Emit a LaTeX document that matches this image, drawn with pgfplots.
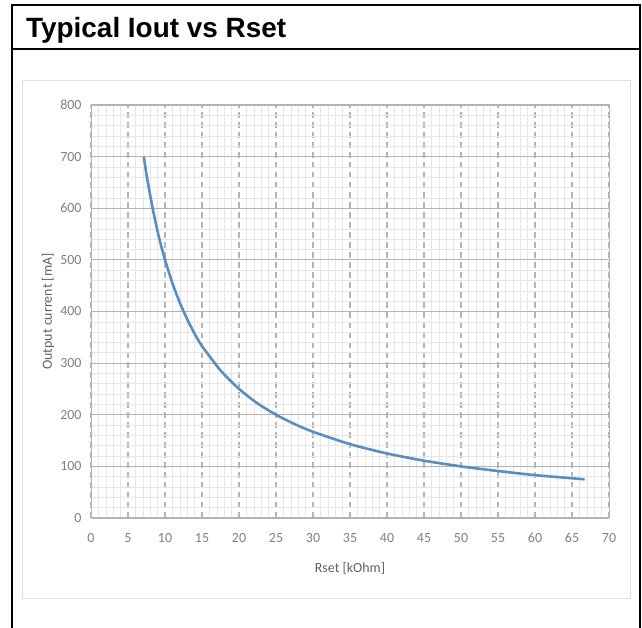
\documentclass[border=0pt]{standalone}
\usepackage{fontspec}
\setmainfont{Carlito}
\newfontfamily\titlefont{Liberation Sans}
\usepackage{pgfplots}
\pgfplotsset{compat=1.18}

\definecolor{curve}{HTML}{5B8DBE}
\definecolor{majgrid}{HTML}{B4B4B4}
\definecolor{mingrid}{HTML}{E6E6E6}
\definecolor{ticktext}{HTML}{7F7F7F}

\begin{document}
\begin{tikzpicture}[x=1bp,y=1bp]
\useasboundingbox (0,0) rectangle (642,628);
% outer frame, open at the bottom
\draw[line width=2bp] (12,0) -- (12,623) -- (640,623) -- (640,0);
\draw[line width=2bp] (12,579) -- (640,579);
\node[anchor=base west, inner sep=0pt, font=\titlefont\bfseries\fontsize{28}{30}\selectfont] at (26,590) {Typical Iout vs Rset};
% chart area
\draw[black!12, line width=0.8bp] (22,30) rectangle (630,548);

\begin{axis}[
    at={(91bp,110bp)}, anchor=south west,
    width=518bp, height=413bp, scale only axis,
    xmin=0, xmax=70, ymin=0, ymax=800,
    xtick={0,5,...,70}, ytick={0,100,...,800},
    minor x tick num=4, minor y tick num=4,
    major tick length=0pt, minor tick length=0pt,
    xmajorgrids, ymajorgrids, xminorgrids, yminorgrids,
    major x grid style={majgrid, line width=1.2bp, dash pattern=on 6bp off 4bp},
    major y grid style={majgrid, line width=1.2bp},
    minor grid style={mingrid, line width=0.6bp},
    axis line style={majgrid, line width=1bp},
    /pgf/number format/assume math mode=true,
    ticklabel style={font=\fontsize{14}{16}\selectfont, text=ticktext},
    xticklabel style={yshift=-12bp},
    yticklabel style={xshift=-6bp},
    xlabel={Rset [kOhm]}, ylabel={Output current [mA]},
    label style={font=\fontsize{14}{16}\selectfont, text=black!62},
    xlabel style={at={(axis description cs:0.5,-0.121)}, anchor=center},
    ylabel style={at={(axis description cs:-0.083,0.5)}, anchor=center},
]
\addplot[curve, line width=2.6bp, smooth, tension=0.4] coordinates {
    (7.14,700) (7.5,665) (8,625) (8.5,588) (9,555) (9.5,526) (10,500)
    (11,455) (12,417) (13,385) (14,357) (15,333) (17.5,286) (20,250)
    (22.5,222) (25,200) (27.5,182) (30,167) (35,143) (40,125) (45,111)
    (50,100) (55,91) (60,83) (65,77) (66.7,75)
};
\end{axis}
\end{tikzpicture}
\end{document}
